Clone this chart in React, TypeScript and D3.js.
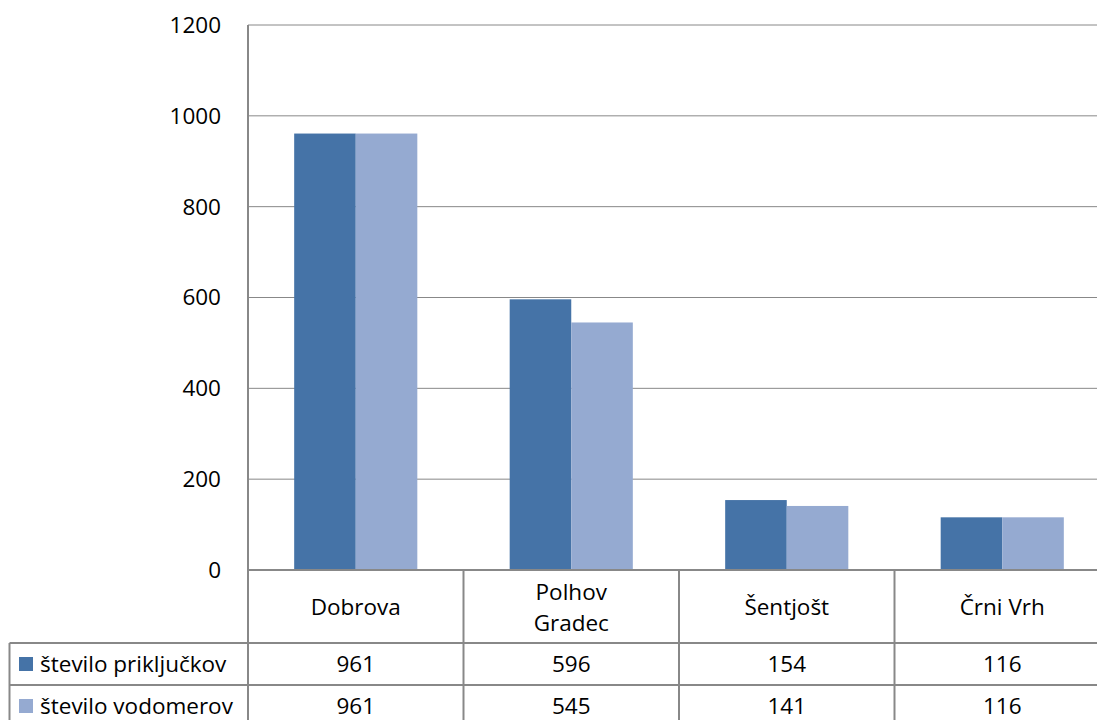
import React from "react";
import * as d3 from "d3";

const categories = ["Dobrova", "Polhov Gradec", "Šentjošt", "Črni Vrh"];
const categoryLines = [["Dobrova"], ["Polhov", "Gradec"], ["Šentjošt"], ["Črni Vrh"]];
const seriesNames = ["število priključkov", "število vodomerov"];
const prikljuckov = [961, 596, 154, 116];
const vodomerov = [961, 545, 141, 116];
const yTicks = [0, 200, 400, 600, 800, 1000, 1200];
const colors = ["#4573A7", "#95AAD1"];

const W = 1097;
const H = 720;
const left = 248;
const right = 1110;
const top = 25;
const bottom = 570;
const catRowBottom = 643;
const rowH = 42;
const tableLeft = 9.5;
const font = "'Open Sans', sans-serif";
const fs = 22.5;
const lineColor = "#888888";

export default function App() {
  const x = d3.scaleBand<string>().domain(categories).range([left, right]).padding(0);
  const bw = x.bandwidth();
  const barW = bw / 3.5;
  const inner = d3
    .scaleBand<string>()
    .domain(seriesNames)
    .range([barW * 0.75, barW * 0.75 + barW * 2])
    .padding(0);
  const y = d3.scaleLinear().domain([0, 1200]).range([bottom, top]);
  const series = [prikljuckov, vodomerov];
  const rowTops = [catRowBottom, catRowBottom + rowH];

  return (
    <svg
      width={W}
      height={H}
      style={{ position: "fixed", left: 0, top: 0, background: "#fff" }}
      fontFamily={font}
    >
      {yTicks.map((t) => (
        <line key={"g" + t} x1={left} x2={right} y1={y(t)} y2={y(t)} stroke={lineColor} strokeWidth={1} />
      ))}
      {yTicks.map((t) => (
        <text key={"yl" + t} x={221} y={y(t)} dy="0.35em" textAnchor="end" fontSize={fs} fill="#000">
          {t}
        </text>
      ))}
      {series.map((vals, si) =>
        categories.map((c, ci) => (
          <rect
            key={"b" + si + "-" + ci}
            x={(x(c) as number) + (inner(seriesNames[si]) as number)}
            y={y(vals[ci])}
            width={inner.bandwidth()}
            height={bottom - y(vals[ci])}
            fill={colors[si]}
          />
        ))
      )}
      <line x1={left} x2={left} y1={top} y2={bottom} stroke={lineColor} strokeWidth={2} />
      <line x1={left} x2={right} y1={bottom} y2={bottom} stroke={lineColor} strokeWidth={2} />
      {rowTops.map((ry, i) => (
        <line key={"h" + i} x1={tableLeft} x2={right} y1={ry} y2={ry} stroke={lineColor} strokeWidth={2} />
      ))}
      <line x1={tableLeft} x2={right} y1={catRowBottom + 2 * rowH} y2={catRowBottom + 2 * rowH} stroke={lineColor} strokeWidth={2} />
      <line x1={tableLeft} x2={tableLeft} y1={catRowBottom} y2={catRowBottom + 2 * rowH} stroke={lineColor} strokeWidth={2} />
      {categories.map((c, ci) => (
        <line
          key={"v" + ci}
          x1={x(c) as number}
          x2={x(c) as number}
          y1={bottom}
          y2={catRowBottom + 2 * rowH}
          stroke={lineColor}
          strokeWidth={2}
        />
      ))}
      {categories.map((c, ci) => {
        const lines = categoryLines[ci];
        const cx = (x(c) as number) + bw / 2;
        const cy = (bottom + catRowBottom) / 2 + 1;
        const lh = 31;
        return (
          <text key={"c" + ci} x={cx} textAnchor="middle" fontSize={fs} fill="#000">
            {lines.map((l, li) => (
              <tspan key={li} x={cx} y={cy + (li - (lines.length - 1) / 2) * lh} dy="0.35em">
                {l}
              </tspan>
            ))}
          </text>
        );
      })}
      {series.map((vals, si) => {
        const cy = rowTops[si] + rowH / 2;
        return (
          <g key={"r" + si}>
            <rect x={19} y={cy - 7} width={14} height={14} fill={colors[si]} />
            <text x={40} y={cy} dy="0.35em" fontSize={fs} fill="#000">
              {seriesNames[si]}
            </text>
            {categories.map((c, ci) => (
              <text
                key={ci}
                x={(x(c) as number) + bw / 2}
                y={cy}
                dy="0.35em"
                textAnchor="middle"
                fontSize={fs}
                fill="#000"
              >
                {vals[ci]}
              </text>
            ))}
          </g>
        );
      })}
    </svg>
  );
}
